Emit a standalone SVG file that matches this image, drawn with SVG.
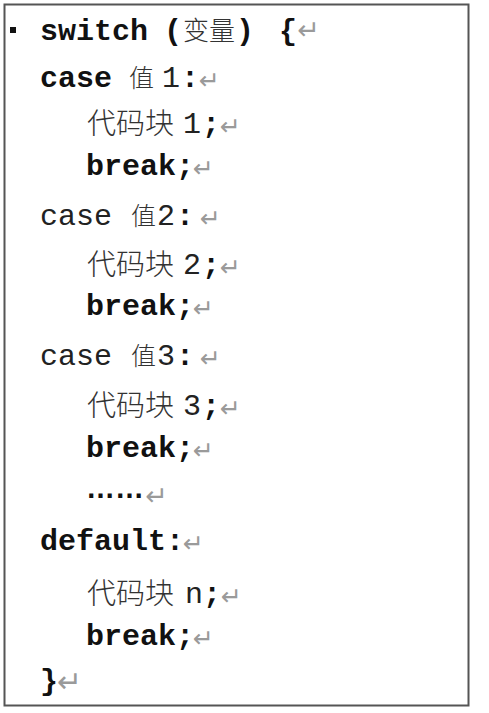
<svg xmlns="http://www.w3.org/2000/svg" width="489" height="713" viewBox="0 0 489 713">
<style>
.kb{font-family:"Liberation Mono","Courier New",monospace;font-weight:bold;font-size:30px;fill:#111}
.kr{font-family:"Liberation Mono","Courier New",monospace;font-weight:normal;font-size:30px;fill:#222}
.cn{font-family:"Noto Sans CJK SC","Noto Sans CJK JP",sans-serif;font-size:29px;fill:#333;font-weight:300}
.zh{font-family:"Noto Sans CJK SC","Noto Sans CJK JP",sans-serif;font-size:25px;fill:#333;font-weight:300}
.pm{font-family:"DejaVu Sans",sans-serif;font-size:25px;fill:#9a9a9a}
.el{font-family:"Liberation Sans",Arial,sans-serif;font-weight:bold;font-size:29px;fill:#111}
</style>
<rect x="0" y="0" width="489" height="713" fill="#fff"/>
<rect x="4.5" y="4.5" width="464" height="701" fill="#fff" stroke="#555" stroke-width="2"/>
<rect x="10" y="27" width="6" height="6" fill="#111"/>
<g id="code">
<g id="l1"><text class="kb" x="164" y="40">(</text><text class="kb" x="40" y="40">switch</text><text class="cn" x="183" y="40" style="font-size:26px">变量</text><text class="kb" x="236" y="40">)</text><text class="kb" x="279" y="40">{</text><text class="pm" x="297" y="39" style="font-size:27px">↵</text></g>
<g id="l2"><text class="kb" x="40" y="87">case</text><text class="zh" x="129" y="87">值</text><text class="kr" x="162" y="87">1</text><text class="kb" x="181" y="87">:</text><text class="pm" x="199" y="89">↵</text></g>
<g id="l3"><text class="cn" x="87" y="134">代码块</text><text class="kr" x="183" y="133">1</text><text class="kb" x="202" y="133">;</text><text class="pm" x="220" y="135">↵</text></g>
<g id="l4"><text class="kb" x="86" y="175">break;</text><text class="pm" x="193" y="177">↵</text></g>
<g id="l5"><text class="kr" x="40" y="225">case</text><text class="zh" x="131" y="225">值</text><text class="kr" x="157" y="225">2</text><text class="kb" x="176" y="225">:</text><text class="pm" x="200" y="227">↵</text></g>
<g id="l6"><text class="cn" x="87" y="275">代码块</text><text class="kr" x="183" y="274">2</text><text class="kb" x="202" y="274">;</text><text class="pm" x="220" y="276">↵</text></g>
<g id="l7"><text class="kb" x="86" y="315">break;</text><text class="pm" x="193" y="317">↵</text></g>
<g id="l8"><text class="kr" x="40" y="365">case</text><text class="zh" x="131" y="365">值</text><text class="kr" x="157" y="365">3</text><text class="kb" x="176" y="365">:</text><text class="pm" x="200" y="367">↵</text></g>
<g id="l9"><text class="cn" x="87" y="416">代码块</text><text class="kr" x="183" y="415">3</text><text class="kb" x="202" y="415">;</text><text class="pm" x="220" y="417">↵</text></g>
<g id="l10"><text class="kb" x="86" y="457">break;</text><text class="pm" x="193" y="459">↵</text></g>
<g id="l11"><text class="el" x="86" y="498">……</text><text class="pm" x="145" y="505" style="font-size:27px">↵</text></g>
<g id="l12"><text class="kb" x="40" y="550">default:</text><text class="pm" x="183" y="552">↵</text></g>
<g id="l13"><text class="cn" x="87" y="604">代码块</text><text class="kr" x="185" y="603">n</text><text class="kb" x="203" y="603">;</text><text class="pm" x="221" y="605">↵</text></g>
<g id="l14"><text class="kb" x="86" y="645">break;</text><text class="pm" x="193" y="647">↵</text></g>
<g id="l15"><text class="kb" x="40" y="690">}</text><text class="pm" x="57" y="692" style="font-size:30px">↵</text></g>
</g>
</svg>
